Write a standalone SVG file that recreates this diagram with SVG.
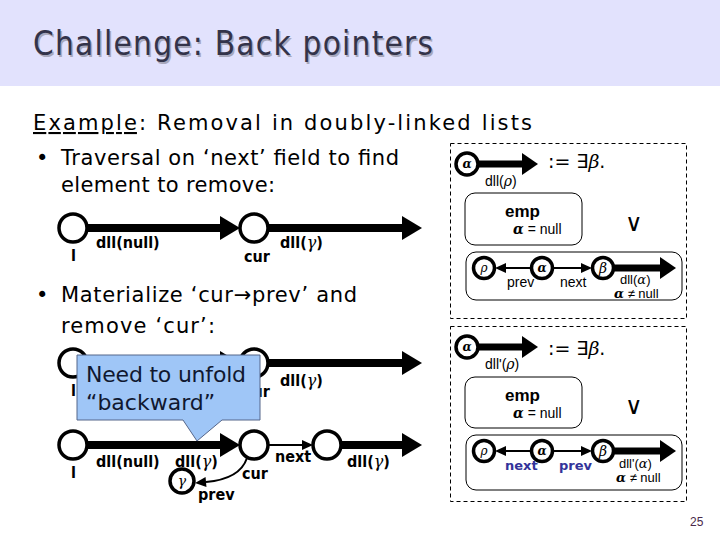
<svg xmlns="http://www.w3.org/2000/svg" width="720" height="540" viewBox="0 0 720 540">
<style>
.title{font-family:"DejaVu Sans Condensed","DejaVu Sans",sans-serif;font-size:33px;fill:#33334a}
.shadow{font-family:"DejaVu Sans Condensed","DejaVu Sans",sans-serif;font-size:33px;fill:#a8a8bc}
.body{font-family:"DejaVu Sans",sans-serif;font-size:21px;fill:#000}
.lbl{font-family:"DejaVu Sans Condensed","DejaVu Sans",sans-serif;font-size:16px;font-weight:bold;fill:#000}
.sm{font-family:"Liberation Sans",sans-serif;font-size:14px;fill:#000}
.xs{font-family:"Liberation Sans",sans-serif;font-size:13px;fill:#000}
.math{font-family:"DejaVu Serif",serif;font-style:italic}
.mb{font-family:"DejaVu Serif",serif;font-style:italic;font-weight:bold}
.node{fill:#fff;stroke:#000;stroke-width:3.5}
.pnode{fill:#fff;stroke:#000;stroke-width:3.5}
.thick{stroke:#000;stroke-width:8;fill:none}
.pthick{stroke:#000;stroke-width:7;fill:none}
.thin{stroke:#000;stroke-width:2;fill:none}
.dash{fill:none;stroke:#000;stroke-width:1;stroke-dasharray:4,3}
.rbox{fill:none;stroke:#000;stroke-width:1}
.blue{font-family:"DejaVu Sans",sans-serif;font-size:13px;font-weight:bold;fill:#33339a}
</style>
<defs>
<marker id="hThick" markerUnits="userSpaceOnUse" markerWidth="20" markerHeight="24" refX="0" refY="12" orient="auto" overflow="visible"><path d="M0,0 L20,12 L0,24 z" fill="#000"/></marker>
<marker id="hP" markerUnits="userSpaceOnUse" markerWidth="16" markerHeight="22" refX="0" refY="11" orient="auto" overflow="visible"><path d="M0,0 L16,11 L0,22 z" fill="#000"/></marker>
<marker id="hThin" markerUnits="userSpaceOnUse" markerWidth="11" markerHeight="10" refX="0" refY="5" orient="auto" overflow="visible"><path d="M0,0 L11,5 L0,10 z" fill="#000"/></marker>
</defs>
<rect x="0" y="0" width="720" height="540" fill="#fff"/>
<rect x="0" y="0" width="720" height="86" fill="#e2e2fd"/>
<text class="shadow" x="34.5" y="56.5" textLength="400">Challenge: Back pointers</text>
<text class="title" x="33" y="55" textLength="400">Challenge: Back pointers</text>

<text class="body" x="33" y="130" font-size="22" textLength="499"><tspan text-decoration="underline">Example</tspan>: Removal in doubly-linked lists</text>
<text class="body" x="36" y="165">•</text>
<text class="body" x="61" y="165" textLength="338">Traversal on ‘next’ field to find</text>
<text class="body" x="61" y="192" textLength="214">element to remove:</text>
<text class="body" x="36" y="302">•</text>
<text class="body" x="61" y="302" textLength="296">Materialize ‘cur→prev’ and</text>
<text class="body" x="61" y="333" textLength="154">remove ‘cur’:</text>

<g id="connectors">
<line class="thick" x1="87" y1="228" x2="220" y2="228" marker-end="url(#hThick)"/>
<line class="thick" x1="268" y1="228" x2="402" y2="228" marker-end="url(#hThick)"/>
<line class="thick" x1="87" y1="363" x2="220" y2="363" marker-end="url(#hThick)"/>
<line class="thick" x1="268" y1="363" x2="402" y2="363" marker-end="url(#hThick)"/>
<line class="thick" x1="87" y1="445" x2="220" y2="445" marker-end="url(#hThick)"/>
<line class="thin" x1="268" y1="445" x2="302" y2="445" marker-end="url(#hThin)"/>
<line class="thick" x1="341" y1="445" x2="402" y2="445" marker-end="url(#hThick)"/>
<path class="thin" d="M247,458 Q240,479 206,482" marker-end="url(#hThin)"/>
<line class="pthick" x1="478" y1="164" x2="522" y2="164" marker-end="url(#hP)"/>
<line class="thin" x1="531" y1="268" x2="506" y2="268" marker-end="url(#hThin)"/>
<line class="thin" x1="553" y1="268" x2="581" y2="268" marker-end="url(#hThin)"/>
<line class="pthick" x1="614" y1="268" x2="660" y2="268" marker-end="url(#hP)"/>
<line class="pthick" x1="478" y1="347" x2="522" y2="347" marker-end="url(#hP)"/>
<line class="thin" x1="531" y1="451" x2="506" y2="451" marker-end="url(#hThin)"/>
<line class="thin" x1="553" y1="451" x2="581" y2="451" marker-end="url(#hThin)"/>
<line class="pthick" x1="614" y1="451" x2="660" y2="451" marker-end="url(#hP)"/>
</g>

<g id="row1">
<circle class="node" cx="73" cy="228" r="14"/>
<circle class="node" cx="254" cy="228" r="14"/>
<text class="lbl" x="71" y="261">l</text>
<text class="lbl" x="96" y="248">dll(null)</text>
<text class="lbl" x="244" y="262">cur</text>
<text class="lbl" x="280" y="248">dll(<tspan class="math" font-weight="normal">γ</tspan>)</text>
</g>

<g id="row2">
<circle class="node" cx="73" cy="363" r="14"/>
<circle class="node" cx="254" cy="363" r="14"/>
<text class="lbl" x="71" y="396">l</text>
<text class="lbl" x="244" y="397">cur</text>
<text class="lbl" x="280" y="386">dll(<tspan class="math" font-weight="normal">γ</tspan>)</text>
</g>

<g id="callout">
<path d="M77,355 H260 V420 H222 L197,441 L183,420 H77 Z" fill="#9fc6f7" stroke="#55668a" stroke-width="1"/>
<text x="86" y="382" font-family="DejaVu Sans, sans-serif" font-size="22" fill="#101830" textLength="160">Need to unfold</text>
<text x="86" y="410" font-family="DejaVu Sans, sans-serif" font-size="22" fill="#101830">“backward”</text>
</g>

<g id="row3">
<circle class="node" cx="73" cy="445" r="14"/>
<circle class="node" cx="254" cy="445" r="14"/>
<circle class="node" cx="327" cy="445" r="14"/>
<circle class="node" cx="182" cy="481" r="12"/>
<text x="182" y="486" text-anchor="middle" font-family="DejaVu Serif, serif" font-style="italic" font-size="14">γ</text>
<text class="lbl" x="71" y="478">l</text>
<text class="lbl" x="96" y="467">dll(null)</text>
<text class="lbl" x="175" y="467">dll(<tspan class="math" font-weight="normal">γ</tspan>)</text>
<text class="lbl" x="242" y="479">cur</text>
<text class="lbl" x="275" y="462">next</text>
<text class="lbl" x="347" y="467">dll(<tspan class="math" font-weight="normal">γ</tspan>)</text>
<text class="lbl" x="198" y="500">prev</text>
</g>

<g id="panel1">
<rect class="dash" x="450.5" y="143.5" width="236" height="175"/>
<circle class="pnode" cx="467" cy="164" r="11"/>
<text class="mb" x="467" y="168" font-size="12" text-anchor="middle">α</text>
<text class="sm" x="485" y="186">dll(<tspan class="math">ρ</tspan>)</text>
<text x="548" y="168" font-family="DejaVu Sans, sans-serif" font-size="19">:=  ∃<tspan class="math">β</tspan>.</text>
<rect class="rbox" x="465" y="193" width="117" height="52" rx="10"/>
<text x="505" y="217" font-family="Liberation Sans, sans-serif" font-weight="bold" font-size="17">emp</text>
<text class="sm" x="513" y="234"><tspan class="mb">α</tspan> = null</text>
<text x="625" y="231" font-family="DejaVu Sans, sans-serif" font-size="24">∨</text>
<rect class="rbox" x="466" y="252" width="216" height="48" rx="10"/>
<circle class="pnode" cx="484" cy="268" r="10.5"/>
<circle class="pnode" cx="542" cy="268" r="10.5"/>
<circle class="pnode" cx="603" cy="268" r="10.5"/>
<text class="math" x="484" y="272" font-size="12" text-anchor="middle">ρ</text>
<text class="mb" x="542" y="272" font-size="12" text-anchor="middle">α</text>
<text class="math" x="603" y="273" font-size="14" text-anchor="middle">β</text>
<text class="sm" x="507" y="287">prev</text>
<text class="sm" x="560" y="287">next</text>
<text class="xs" x="620" y="284">dll(<tspan class="math">α</tspan>)</text>
<text class="xs" x="614" y="298"><tspan class="mb">α</tspan> ≠ null</text>
</g>

<g id="panel2">
<rect class="dash" x="450.5" y="326.5" width="236" height="175"/>
<circle class="pnode" cx="467" cy="347" r="11"/>
<text class="mb" x="467" y="351" font-size="12" text-anchor="middle">α</text>
<text class="sm" x="485" y="369">dll'(<tspan class="math">ρ</tspan>)</text>
<text x="548" y="355" font-family="DejaVu Sans, sans-serif" font-size="19">:=  ∃<tspan class="math">β</tspan>.</text>
<rect class="rbox" x="465" y="377" width="117" height="51" rx="10"/>
<text x="505" y="401" font-family="Liberation Sans, sans-serif" font-weight="bold" font-size="17">emp</text>
<text class="sm" x="513" y="418"><tspan class="mb">α</tspan> = null</text>
<text x="625" y="414" font-family="DejaVu Sans, sans-serif" font-size="24">∨</text>
<rect class="rbox" x="466" y="435" width="216" height="55" rx="10"/>
<circle class="pnode" cx="484" cy="451" r="10.5"/>
<circle class="pnode" cx="542" cy="451" r="10.5"/>
<circle class="pnode" cx="603" cy="451" r="10.5"/>
<text class="math" x="484" y="455" font-size="12" text-anchor="middle">ρ</text>
<text class="mb" x="542" y="455" font-size="12" text-anchor="middle">α</text>
<text class="math" x="603" y="456" font-size="14" text-anchor="middle">β</text>
<text class="blue" x="505" y="470">next</text>
<text class="blue" x="559" y="470">prev</text>
<text class="xs" x="619" y="468">dll'(<tspan class="math">α</tspan>)</text>
<text class="xs" x="616" y="482"><tspan class="mb">α</tspan> ≠ null</text>
</g>

<text x="690" y="526" font-family="Liberation Sans, sans-serif" font-size="12" fill="#4a2a4a">25</text>
</svg>
